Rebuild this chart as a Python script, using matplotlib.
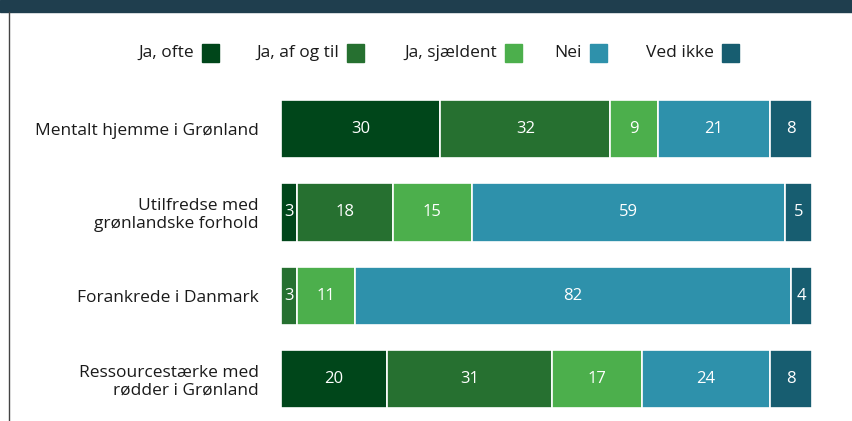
import matplotlib
matplotlib.use("Agg")
import matplotlib.pyplot as plt
from matplotlib.patches import Rectangle
from matplotlib.lines import Line2D

categories = ["Mentalt hjemme i Grønland",
              "Utilfredse med\ngrønlandske forhold",
              "Forankrede i Danmark",
              "Ressourcestærke med\nrødder i Grønland"]
series_names = ["Ja, ofte", "Ja, af og til", "Ja, sjældent", "Nei", "Ved ikke"]
ja_ofte = [30, 3, 0, 20]
ja_af_og_til = [32, 18, 3, 31]
ja_sjaeldent = [9, 15, 11, 17]
nei = [21, 59, 82, 24]
ved_ikke = [8, 5, 4, 8]
series = [ja_ofte, ja_af_og_til, ja_sjaeldent, nei, ved_ikke]
colors = ["#00461a", "#267030", "#4caf4c", "#2e91ab", "#175d70"]

plt.rcParams['font.family'] = ['Open Sans', 'DejaVu Sans']

W, H = 853, 421
fig = plt.figure(figsize=(W/100, H/100), dpi=100)
ax = fig.add_axes([281/W, 0.0, (812-281)/W, 1 - 87.25/H])

y = list(range(len(categories)))
left = [0]*len(categories)
for vals, col in zip(series, colors):
    ax.barh(y, vals, left=left, height=0.7, color=col,
            edgecolor="white", linewidth=1.2)
    for yi, v, l in zip(y, vals, left):
        if v > 0:
            ax.text(l + v/2, yi, str(v), ha="center", va="center",
                    color="white", fontsize=12)
    left = [a + b for a, b in zip(left, vals)]

ax.set_xlim(0, 100)
ax.set_ylim(3.5, -0.5)
ax.set_yticks(y)
ax.set_yticklabels(categories, fontsize=12.5, linespacing=1.1, color="#1a1a1a")
ax.tick_params(axis="y", length=0, pad=16)
ax.set_xticks([])
for s in ax.spines.values():
    s.set_visible(False)

# title band and left border
fig.add_artist(Rectangle((0, 1 - 12/H), 1, 12/H, transform=fig.transFigure,
                         color="#1f3e4e", zorder=0))
fig.add_artist(Line2D([8.5/W, 8.5/W], [0, 1 - 12/H], transform=fig.transFigure,
                      color="#444444", linewidth=1))

# legend: text followed by square
legend_squares = [202, 347, 505, 590, 722]
ly = 1 - 53/H
for name, col, sx in zip(series_names, colors, legend_squares):
    fig.text((sx - 8)/W, ly, name, ha="right", va="center",
             fontsize=12.5, color="#1a1a1a")
    fig.add_artist(Rectangle((sx/W, ly - 9/H), 17/W, 18/H,
                             transform=fig.transFigure, color=col))

fig.savefig("out.png", dpi=100)
